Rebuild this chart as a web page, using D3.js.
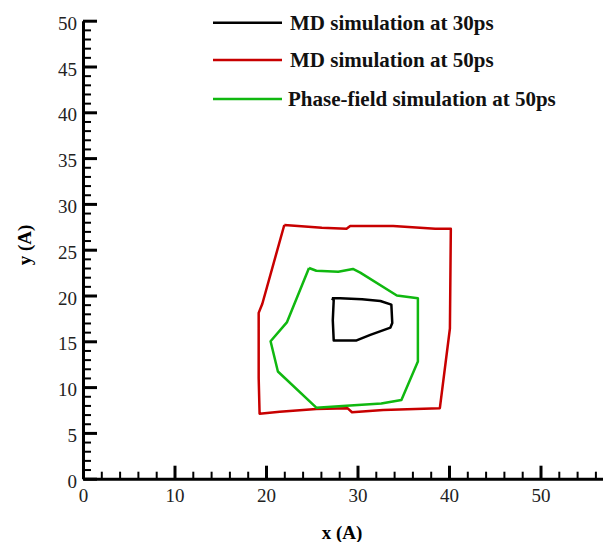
<!DOCTYPE html>
<html>
<head>
<meta charset="utf-8">
<script src="https://cdn.jsdelivr.net/npm/d3@7"></script>
<style>
  body { margin: 0; background: #fff; }
  svg { display: block; }
</style>
</head>
<body>
<script>
// data (x, y in Angstrom)
var md30 = [
  [27.2, 19.7], [28.1, 19.7], [30.5, 19.6], [32.5, 19.4], [33.7, 19.0],
  [33.8, 17.0], [33.6, 16.5], [31.4, 15.7], [29.9, 15.1], [27.4, 15.1],
  [27.3, 17.3], [27.4, 19.5], [27.2, 19.7]
];
var md50 = [
  [22.0, 27.7], [23.5, 27.6], [26.1, 27.4], [28.8, 27.3], [29.2, 27.6],
  [33.9, 27.6], [38.5, 27.3], [40.2, 27.3], [40.1, 16.4], [39.0, 7.7],
  [32.8, 7.5], [29.4, 7.25], [28.9, 7.7], [25.5, 7.6], [21.5, 7.3],
  [19.3, 7.1], [19.2, 11.0], [19.2, 18.1], [19.6, 19.1], [22.0, 27.7]
];
var phase50 = [
  [24.7, 23.0], [25.5, 22.7], [27.9, 22.6], [29.5, 22.9], [30.3, 22.5],
  [34.3, 20.0], [36.6, 19.7], [36.6, 12.8], [34.8, 8.6], [32.6, 8.2],
  [29.2, 8.0], [25.5, 7.75], [21.3, 11.7], [20.5, 15.0], [22.3, 17.1],
  [24.7, 23.0]
];
var seriesNames = ['MD simulation at 30ps', 'MD simulation at 50ps', 'Phase-field simulation at 50ps'];
var seriesColors = ['#000000', '#c80000', '#10b810'];
var xMajor = [0, 10, 20, 30, 40, 50];
var yMajor = [0, 5, 10, 15, 20, 25, 30, 35, 40, 45, 50];

var chart = function() {
  var width = 603;
  var height = 542;
  var serif = '"Liberation Serif", "DejaVu Serif", serif';
  var svg;
  var x;
  var y;

  var createSvg = function() {
    svg = d3.select('body')
      .append('svg')
      .attr('width', width)
      .attr('height', height);

    x = d3.scaleLinear().domain([0, 57]).range([83, 83 + 9.15 * 57]);
    y = d3.scaleLinear().domain([0, 50]).range([478.7, 20.7]);
  };

  var styleTicks = function(g) {
    g.attr('font-family', serif).attr('font-size', 19);
    g.selectAll('text').style('font-family', serif).style('font-size', '19px').attr('fill', '#222');
  };

  var drawAxes = function() {
    var xMinor = d3.range(0, 57, 2).filter(function(d) { return d % 10 !== 0; });
    var yMinor = d3.range(0, 51, 1).filter(function(d) { return d % 5 !== 0; });

    svg.append('g')
      .attr('transform', 'translate(0,478.7)')
      .call(d3.axisBottom(x).tickValues(xMinor).tickSize(-7).tickFormat(''))
      .call(function(g) { g.selectAll('line').attr('stroke', '#000').attr('stroke-width', 2); g.select('.domain').remove(); });

    svg.append('g')
      .attr('transform', 'translate(0,478.7)')
      .call(d3.axisBottom(x).tickValues(xMajor).tickSize(-13).tickPadding(10).tickSizeOuter(0))
      .call(function(g) {
        g.selectAll('line').attr('stroke', '#000').attr('stroke-width', 3);
        g.select('.domain').attr('stroke', '#000').attr('stroke-width', 3);
        styleTicks(g);
      });

    svg.append('g')
      .attr('transform', 'translate(83,0)')
      .call(d3.axisLeft(y).tickValues(yMinor).tickSize(-8).tickFormat(''))
      .call(function(g) { g.selectAll('line').attr('stroke', '#000').attr('stroke-width', 2); g.select('.domain').remove(); });

    svg.append('g')
      .attr('transform', 'translate(83,0)')
      .call(d3.axisLeft(y).tickValues(yMajor).tickSize(-14).tickPadding(6).tickSizeOuter(0))
      .call(function(g) {
        g.selectAll('line').attr('stroke', '#000').attr('stroke-width', 3);
        g.select('.domain').attr('stroke', '#000').attr('stroke-width', 3);
        styleTicks(g);
        g.selectAll('text').attr('x', -6).attr('dy', '0.45em');
      });

    svg.append('text')
      .attr('x', 342)
      .attr('y', 539)
      .attr('text-anchor', 'middle')
      .style('font-family', serif)
      .style('font-weight', 'bold')
      .style('font-size', '19px')
      .text('x (A)');

    svg.append('text')
      .attr('transform', 'translate(31,245) rotate(-90)')
      .attr('text-anchor', 'middle')
      .style('font-family', serif)
      .style('font-weight', 'bold')
      .style('font-size', '19px')
      .text('y (A)');
  };

  var drawCurves = function() {
    var line = d3.line()
      .x(function(d) { return x(d[0]); })
      .y(function(d) { return y(d[1]); });

    [md50, phase50, md30].forEach(function(data, i) {
      var idx = [1, 2, 0][i];
      svg.append('path')
        .attr('d', line(data))
        .attr('fill', 'none')
        .attr('stroke', seriesColors[idx])
        .attr('stroke-width', 2.5)
        .attr('stroke-linejoin', 'round');
    });
  };

  var drawLegend = function() {
    var rows = [22.7, 60, 99];
    for(var i = 0; i < seriesNames.length; i++) {
      svg.append('line')
        .attr('x1', 213)
        .attr('x2', 282)
        .attr('y1', rows[i])
        .attr('y2', rows[i])
        .attr('stroke', seriesColors[i])
        .attr('stroke-width', 2.5);

      svg.append('text')
        .attr('x', i === 2 ? 288 : 290)
        .attr('y', rows[i] + 7)
        .style('font-family', serif)
        .style('font-weight', 'bold')
        .style('font-size', '21px')
        .style('fill', '#111')
        .text(seriesNames[i]);
    }
  };

  return {
    createSvg: createSvg,
    drawAxes: drawAxes,
    drawCurves: drawCurves,
    drawLegend: drawLegend
  };
}();

chart.createSvg();
chart.drawAxes();
chart.drawCurves();
chart.drawLegend();
</script>
</body>
</html>
